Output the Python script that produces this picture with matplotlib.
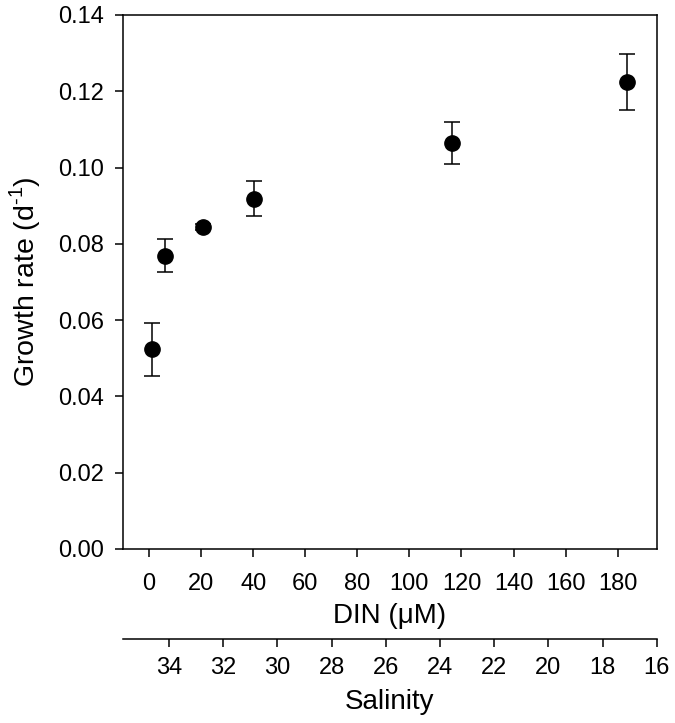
import matplotlib.pyplot as plt
import numpy as np

# data ________________________________________________________________
din = [1.0, 6.1, 20.9, 40.2, 116.2, 183.6]
growth = [0.0523, 0.0769, 0.0844, 0.0918, 0.1065, 0.1225]
growth_err = [0.0069, 0.0044, 0.0008, 0.0046, 0.0055, 0.0073]

din_ticks = [0, 20, 40, 60, 80, 100, 120, 140, 160, 180]
sal_ticks = [34, 32, 30, 28, 26, 24, 22, 20, 18, 16]
y_ticks = [0.00, 0.02, 0.04, 0.06, 0.08, 0.10, 0.12, 0.14]

# plot ________________________________________________________________
plt.rcParams['font.family'] = ['Liberation Sans', 'DejaVu Sans']
plt.rcParams['mathtext.fontset'] = 'custom'
plt.rcParams['mathtext.rm'] = 'Liberation Sans'
plt.rcParams['axes.linewidth'] = 1.1

fig = plt.figure(figsize=(6.75, 7.23), dpi=100)
ax = fig.add_axes([0.1822, 0.2407, 0.973 - 0.1822, 0.9793 - 0.2407])

ax.errorbar(din, growth, yerr=growth_err, fmt='o', color='black', markersize=11,
            capsize=5.5, elinewidth=1.1, capthick=1.1)

ax.set_xlim(-10, 195)
ax.set_ylim(0, 0.14)
ax.set_xticks(din_ticks)
ax.set_yticks(y_ticks)
ax.set_yticklabels([f'{v:.2f}' for v in y_ticks])
ax.tick_params(direction='out', length=6, width=1.1, labelsize=17)
ax.tick_params(axis='x', pad=11)
ax.tick_params(axis='y', pad=7.5)
ax.set_xlabel('DIN (μM)', fontsize=20, labelpad=6)
ax.set_ylabel('Growth rate (d$^{\\mathregular{\u2010}1}$)', fontsize=20.5, labelpad=11)

# eix de salinitat a sota
ax2 = ax.twiny()
ax2.set_xlim(35.7, 16)
ax2.set_xticks(sal_ticks)
ax2.xaxis.set_ticks_position('bottom')
ax2.xaxis.set_label_position('bottom')
ax2.spines['bottom'].set_position(('outward', 64.8))
for s in ['top', 'left', 'right']:
    ax2.spines[s].set_visible(False)
ax2.tick_params(direction='out', length=6, width=1.1, labelsize=17, pad=7)
ax2.set_xlabel('Salinity', fontsize=20, labelpad=7)

fig.savefig('out.png', dpi=100)
